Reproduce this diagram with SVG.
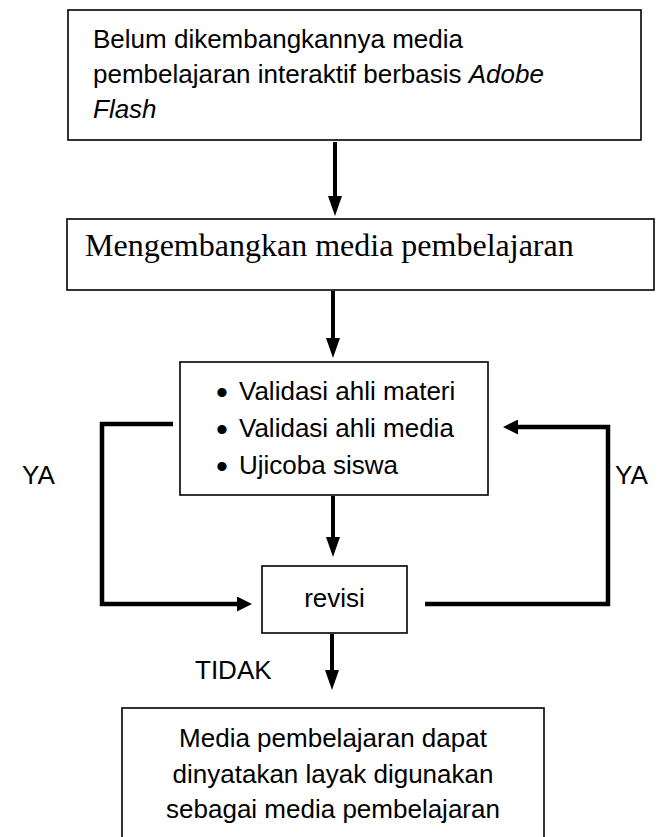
<svg xmlns="http://www.w3.org/2000/svg" width="669" height="837" viewBox="0 0 669 837">
<style>
.box{fill:#fff;stroke:#000;stroke-width:1.6}
.t{font-family:"Liberation Sans",Arial,sans-serif;font-size:26px;fill:#000}
.b{font-family:"Liberation Sans",Arial,sans-serif;font-size:34px;fill:#000}
.ts{font-family:"Liberation Serif","Times New Roman",serif;font-size:32px;fill:#000}
.c{stroke:#000;fill:none;stroke-linejoin:miter;stroke-linecap:butt}
.v{stroke-width:4}
.l{stroke-width:4.5}
</style>
<defs>
<marker id="ah" markerUnits="userSpaceOnUse" viewBox="0 0 20 14" markerWidth="20" markerHeight="14" refX="0" refY="7" orient="auto">
<polygon points="0,0 20,7 0,14" fill="#000"/>
</marker>
<marker id="ah2" markerUnits="userSpaceOnUse" viewBox="0 0 15 15" markerWidth="15" markerHeight="15" refX="0" refY="7.5" orient="auto">
<polygon points="0,0 15,7.5 0,15" fill="#000"/>
</marker>
</defs>
<rect width="669" height="837" fill="#fff"/>
<g id="n1">
<rect class="box" x="68" y="10" width="573" height="130"/>
<text class="t" x="93" y="48">Belum dikembangkannya media</text>
<text class="t" x="93" y="83">pembelajaran interaktif berbasis <tspan font-style="italic">Adobe</tspan></text>
<text class="t" x="93" y="118" font-style="italic">Flash</text>
</g>
<g id="n2">
<rect class="box" x="67" y="219" width="587" height="71"/>
<text class="ts" x="85" y="256">Mengembangkan media pembelajaran</text>
</g>
<g id="n3">
<rect class="box" x="180" y="362" width="308" height="133"/>
<text class="b" x="216" y="404">•</text>
<text class="t" x="239" y="400">Validasi ahli materi</text>
<text class="b" x="216" y="441">•</text>
<text class="t" x="239" y="437">Validasi ahli media</text>
<text class="b" x="216" y="478">•</text>
<text class="t" x="239" y="474">Ujicoba siswa</text>
</g>
<g id="n4">
<rect class="box" x="262" y="566" width="145" height="67"/>
<text class="t" x="334.5" y="607" text-anchor="middle">revisi</text>
</g>
<g id="n5">
<rect class="box" x="122" y="708" width="422" height="140"/>
<text class="t" x="333" y="747" text-anchor="middle">Media pembelajaran dapat</text>
<text class="t" x="333" y="783" text-anchor="middle">dinyatakan layak digunakan</text>
<text class="t" x="333" y="818" text-anchor="middle">sebagai media pembelajaran</text>
</g>
<g id="connectors">
<path class="c v" d="M335 142 V196" marker-end="url(#ah)"/>
<path class="c v" d="M333 291 V338" marker-end="url(#ah)"/>
<path class="c v" d="M333 496 V537" marker-end="url(#ah)"/>
<path class="c v" d="M332 634 V670" marker-end="url(#ah)"/>
<path class="c l" d="M173 424 H102 V604 H237" marker-end="url(#ah2)"/>
<path class="c l" d="M425 604 H608 V427 H518" marker-end="url(#ah2)"/>
</g>
<g id="labels">
<text class="t" x="22" y="484">YA</text>
<text class="t" x="615" y="484">YA</text>
<text class="t" x="195" y="679">TIDAK</text>
</g>
</svg>
